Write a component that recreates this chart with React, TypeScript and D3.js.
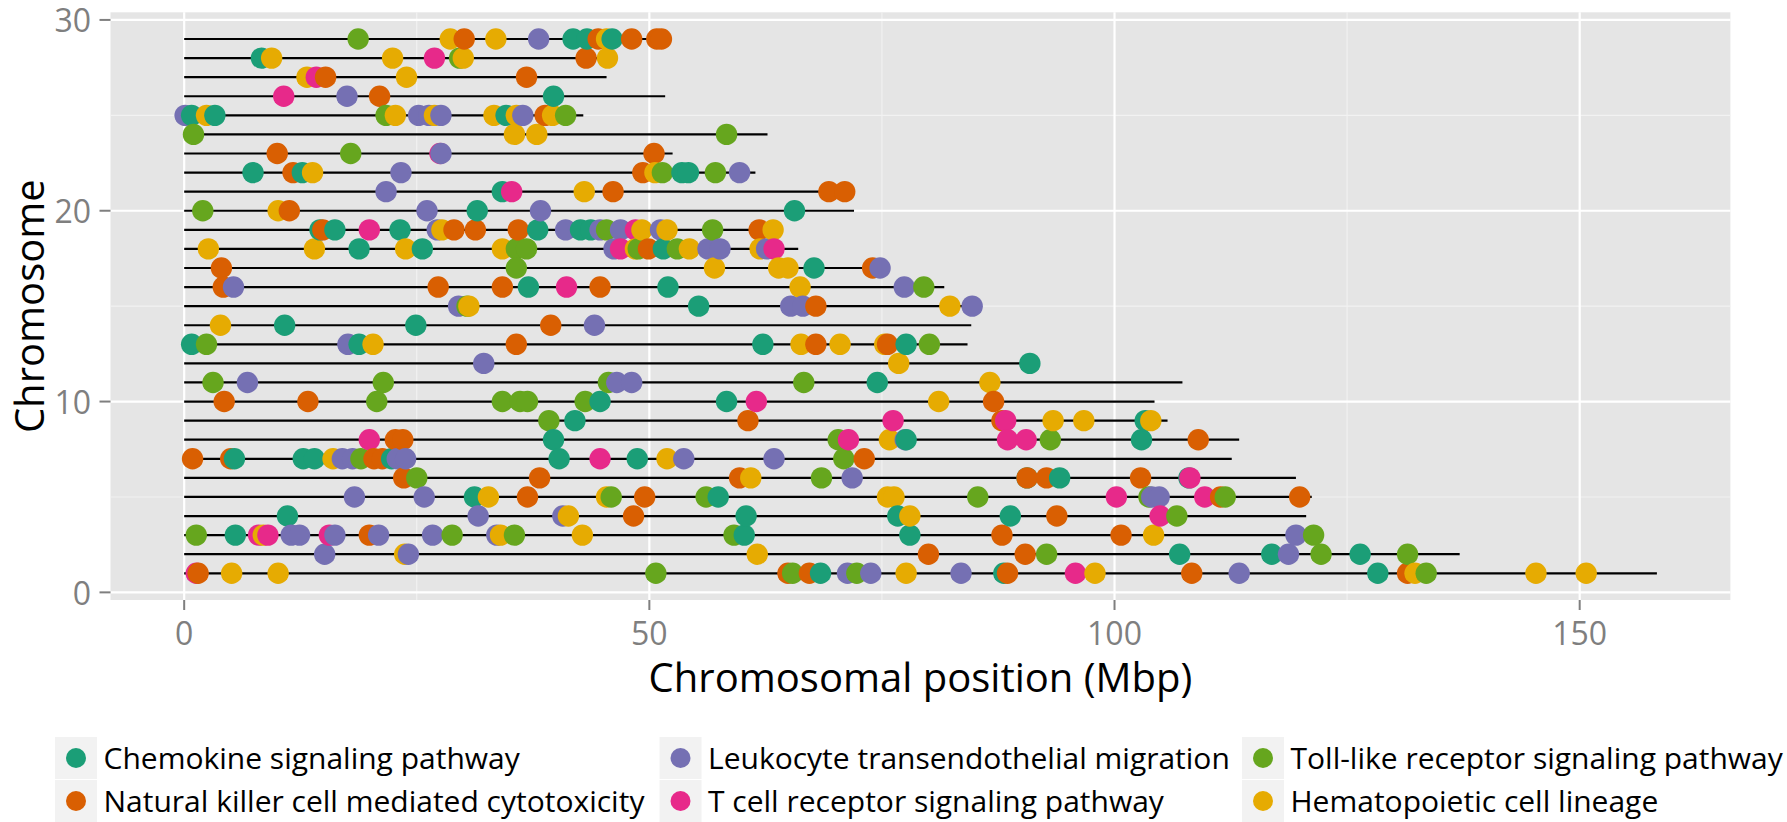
import React from 'react';
import * as d3 from 'd3';

// pathway legend order + Dark2 colours
const pathways = [
  'Chemokine signaling pathway',
  'Natural killer cell mediated cytotoxicity',
  'Leukocyte transendothelial migration',
  'T cell receptor signaling pathway',
  'Toll-like receptor signaling pathway',
  'Hematopoietic cell lineage',
];
const pathwayColors = ['#1B9E77', '#D95F02', '#7570B3', '#E7298A', '#66A61E', '#E6AB02'];

const chromosomes = [1, 2, 3, 4, 5, 6, 7, 8, 9, 10, 11, 12, 13, 14, 15, 16, 17, 18, 19, 20, 21, 22, 23, 24, 25, 26, 27, 28, 29];
const chromLengthMbp = [158.3, 137.1, 121.4, 120.6, 121.2, 119.5, 112.6, 113.4, 105.7, 104.3, 107.3, 91.2, 84.2, 84.6, 85.3,
  81.7, 75.2, 66.0, 64.1, 72.0, 71.6, 61.4, 52.5, 62.7, 42.9, 51.7, 45.4, 46.3, 51.5];

const xTicks = [0, 50, 100, 150];
const xMinor = [25, 75, 125];
const yTicks = [0, 10, 20, 30];
const yMinor = [5, 15, 25];

// gene positions: [chromosome, position in Mbp]
const chemokine = [
  [29, 41.8], [29, 43.3], [29, 46.0], [28, 8.3], [26, 39.7], [25, 0.8], [25, 3.3], [25, 34.6],
  [22, 7.4], [22, 12.7], [22, 53.5], [22, 54.2], [21, 34.2], [20, 31.5], [20, 65.6],
  [19, 14.6], [19, 16.2], [19, 23.2], [19, 38.0], [19, 42.6], [19, 43.7], [18, 18.8], [18, 25.6], [18, 51.5],
  [17, 67.7], [16, 37.0], [16, 52.0], [15, 55.3], [14, 10.8], [14, 24.9], [13, 0.8], [13, 18.8], [13, 62.2], [13, 77.6],
  [12, 90.9], [11, 74.5], [10, 44.7], [10, 58.3], [9, 42.0], [9, 103.3], [8, 39.7], [8, 77.6], [8, 102.9],
  [7, 5.4], [7, 12.8], [7, 14.0], [7, 22.3], [7, 40.3], [7, 48.7], [6, 90.6], [6, 94.1], [6, 108.0],
  [5, 31.2], [5, 57.4], [4, 11.1], [4, 60.4], [4, 76.7], [4, 88.8], [3, 5.5], [3, 60.2], [3, 78.0],
  [2, 107.0], [2, 116.9], [2, 126.4], [1, 68.4], [1, 88.1], [1, 128.3],
];
const naturalKiller = [
  [29, 30.1], [29, 44.5], [29, 48.1], [29, 50.8], [29, 51.3], [28, 43.2], [27, 15.2], [27, 36.8], [26, 21.0], [25, 38.8],
  [23, 10.0], [23, 50.5], [22, 11.7], [22, 49.3], [21, 46.1], [21, 69.3], [21, 71.0], [20, 11.3],
  [19, 14.9], [19, 29.0], [19, 31.3], [19, 35.9], [19, 61.8], [18, 49.9], [17, 4.0], [17, 74.0],
  [16, 4.2], [16, 27.3], [16, 34.2], [16, 44.7], [15, 67.9], [14, 39.4], [13, 35.7], [13, 67.9], [13, 75.6],
  [10, 4.3], [10, 13.3], [10, 87.0], [9, 60.6], [9, 87.9], [8, 22.7], [8, 23.5], [8, 109.0],
  [7, 0.9], [7, 5.0], [7, 20.4], [7, 21.3], [7, 73.1], [6, 23.6], [6, 38.2], [6, 59.7], [6, 90.6], [6, 92.7], [6, 102.8],
  [5, 36.9], [5, 49.5], [5, 111.4], [5, 119.9], [4, 48.3], [4, 93.8], [3, 19.9], [3, 87.9], [3, 100.7],
  [2, 80.0], [2, 90.4], [1, 1.5], [1, 64.9], [1, 67.2], [1, 88.5], [1, 108.3], [1, 131.5],
];
const leukocyte = [
  [29, 38.1], [26, 17.5], [25, 0.1], [25, 25.2], [25, 26.3], [25, 27.6], [25, 36.4], [23, 27.6], [22, 23.3], [22, 59.7],
  [21, 21.7], [20, 26.1], [20, 38.3], [19, 27.2], [19, 41.0], [19, 44.7], [19, 46.9], [19, 51.2],
  [18, 46.2], [18, 56.3], [18, 57.6], [18, 62.6], [17, 74.8], [16, 5.3], [16, 77.4],
  [15, 29.5], [15, 65.2], [15, 66.5], [15, 84.7], [14, 44.1], [13, 17.6], [12, 32.2], [11, 6.8], [11, 46.5], [11, 48.1],
  [8, 77.5], [7, 17.0], [7, 18.1], [7, 22.9], [7, 23.8], [7, 53.7], [7, 63.4], [6, 71.8],
  [5, 18.3], [5, 25.8], [5, 104.0], [5, 104.8], [4, 31.6], [4, 40.7],
  [3, 11.5], [3, 12.4], [3, 16.2], [3, 20.9], [3, 26.7], [3, 33.6], [3, 119.5], [2, 15.1], [2, 24.1], [2, 118.7],
  [1, 71.3], [1, 73.8], [1, 83.5], [1, 113.4],
];
const tCell = [
  [28, 26.9], [27, 14.2], [26, 10.7], [23, 27.5], [21, 35.2], [19, 19.9], [19, 48.5], [18, 46.9], [18, 63.4], [16, 41.1],
  [10, 61.5], [9, 76.2], [9, 88.3], [8, 19.9], [8, 71.4], [8, 88.5], [8, 90.5], [7, 44.7], [6, 108.1],
  [5, 100.2], [5, 109.7], [4, 104.9], [3, 8.0], [3, 9.0], [3, 15.6], [1, 1.3], [1, 95.8],
];
const tollLike = [
  [29, 18.7], [28, 29.6], [25, 21.7], [25, 41.0], [24, 1.0], [24, 58.3], [23, 17.9], [22, 51.4], [22, 57.1], [20, 2.0],
  [19, 45.4], [19, 56.8], [18, 35.7], [18, 36.8], [18, 48.8], [18, 53.0], [17, 35.7], [16, 79.5], [15, 30.4],
  [13, 2.4], [13, 80.1], [11, 3.1], [11, 21.4], [11, 45.6], [11, 66.6], [10, 20.7], [10, 34.2], [10, 36.1], [10, 36.9], [10, 43.1],
  [9, 39.2], [8, 70.3], [8, 93.1], [7, 19.0], [7, 70.9], [6, 25.0], [6, 68.5],
  [5, 45.9], [5, 56.1], [5, 85.3], [5, 103.7], [5, 111.9], [4, 106.7], [3, 1.3], [3, 28.8], [3, 35.5], [3, 59.1], [3, 121.4],
  [2, 92.7], [2, 122.2], [2, 131.5], [1, 50.7], [1, 65.4], [1, 72.3], [1, 133.5],
];
const hematopoietic = [
  [29, 28.6], [29, 33.5], [29, 45.4], [28, 9.4], [28, 22.4], [28, 30.0], [28, 45.5], [27, 13.2], [27, 23.9],
  [25, 2.4], [25, 22.7], [25, 26.9], [25, 33.3], [25, 35.7], [25, 39.6], [24, 35.5], [24, 37.9], [22, 13.8], [22, 50.6],
  [21, 43.0], [20, 10.1], [19, 27.7], [19, 49.2], [19, 51.9], [19, 63.3],
  [18, 2.6], [18, 14.0], [18, 23.8], [18, 34.2], [18, 48.5], [18, 54.3], [18, 61.9], [17, 57.0], [17, 63.9], [17, 64.9],
  [16, 66.2], [15, 30.6], [15, 82.3], [14, 3.9], [13, 20.3], [13, 66.3], [13, 70.5], [13, 75.3], [12, 76.8], [11, 86.6],
  [10, 81.1], [9, 93.4], [9, 96.7], [9, 103.9], [8, 75.8], [7, 16.0], [7, 51.9], [6, 60.9],
  [5, 32.7], [5, 45.4], [5, 75.6], [5, 76.3], [4, 41.3], [4, 78.0], [3, 8.5], [3, 34.0], [3, 42.8], [3, 104.2],
  [2, 23.7], [2, 61.6], [1, 5.1], [1, 10.1], [1, 77.6], [1, 97.9], [1, 132.3], [1, 145.3], [1, 150.7],
];
const series = [chemokine, naturalKiller, leukocyte, tCell, tollLike, hematopoietic];

const W = 1787;
const H = 822;
const panel = { left: 110.5, right: 1730.4, top: 12.3, bottom: 600 };
const font = '"Open Sans", sans-serif';

export default function App() {
  const x = d3.scaleLinear().domain([-7.92, 166.2]).range([panel.left, panel.right]);
  const y = d3.scaleLinear().domain([-0.4, 30.4]).range([panel.bottom, panel.top]);

  // draw left to right so later genes sit on top
  const points = series
    .flatMap((s, i) => s.map(([c, pos]) => ({ c, pos, i })))
    .sort((a, b) => a.pos - b.pos);

  const legendCols = [54.5, 659, 1241.5];
  const legendRows = [736.5, 779.5];
  const keySize = 43;

  return (
    <svg width={W} height={H} style={{ position: 'absolute', left: 0, top: 0, background: '#fff' }} fontFamily={font}>
      <rect x={panel.left} y={panel.top} width={panel.right - panel.left} height={panel.bottom - panel.top} fill="#e5e5e5" />
      {xMinor.map(v => (
        <line key={'xm' + v} x1={x(v)} x2={x(v)} y1={panel.top} y2={panel.bottom} stroke="#f2f2f2" strokeWidth={1.1} />
      ))}
      {yMinor.map(v => (
        <line key={'ym' + v} x1={panel.left} x2={panel.right} y1={y(v)} y2={y(v)} stroke="#f2f2f2" strokeWidth={1.1} />
      ))}
      {xTicks.map(v => (
        <line key={'xg' + v} x1={x(v)} x2={x(v)} y1={panel.top} y2={panel.bottom} stroke="#fff" strokeWidth={2.2} />
      ))}
      {yTicks.map(v => (
        <line key={'yg' + v} x1={panel.left} x2={panel.right} y1={y(v)} y2={y(v)} stroke="#fff" strokeWidth={2.2} />
      ))}

      {chromosomes.map((c, i) => (
        <line key={'chr' + c} x1={x(0)} x2={x(chromLengthMbp[i])} y1={y(c)} y2={y(c)} stroke="#000" strokeWidth={2.2} />
      ))}

      {points.map((p, k) => (
        <circle key={k} cx={x(p.pos)} cy={y(p.c)} r={10.7} fill={pathwayColors[p.i]} />
      ))}

      {/* axes */}
      {xTicks.map(v => (
        <g key={'xt' + v}>
          <line x1={x(v)} x2={x(v)} y1={panel.bottom} y2={panel.bottom + 10} stroke="#7f7f7f" strokeWidth={2} />
          <text x={x(v)} y={645} textAnchor="middle" fontSize={32} fill="#7f7f7f">{v}</text>
        </g>
      ))}
      {yTicks.map(v => (
        <g key={'yt' + v}>
          <line x1={panel.left - 11} x2={panel.left} y1={y(v)} y2={y(v)} stroke="#7f7f7f" strokeWidth={2} />
          <text x={91} y={y(v) + 12.5} textAnchor="end" fontSize={32} fill="#7f7f7f">{v}</text>
        </g>
      ))}
      <text x={(panel.left + panel.right) / 2} y={692} textAnchor="middle" fontSize={40} fill="#000">
        Chromosomal position (Mbp)
      </text>
      <text transform={`translate(44,${(panel.top + panel.bottom) / 2}) rotate(-90)`} textAnchor="middle" fontSize={40} fill="#000">
        Chromosome
      </text>

      {/* legend, filled by column */}
      {pathways.map((name, i) => {
        const col = Math.floor(i / 2);
        const row = i % 2;
        const kx = legendCols[col];
        const ky = legendRows[row];
        return (
          <g key={name}>
            <rect x={kx} y={ky} width={keySize} height={keySize} fill="#f2f2f2" stroke="#fff" strokeWidth={1} />
            <circle cx={kx + keySize / 2} cy={ky + keySize / 2} r={10} fill={pathwayColors[i]} />
            <text x={kx + keySize + 6} y={ky + keySize / 2 + 10.5} fontSize={30} fill="#000">{name}</text>
          </g>
        );
      })}
    </svg>
  );
}
